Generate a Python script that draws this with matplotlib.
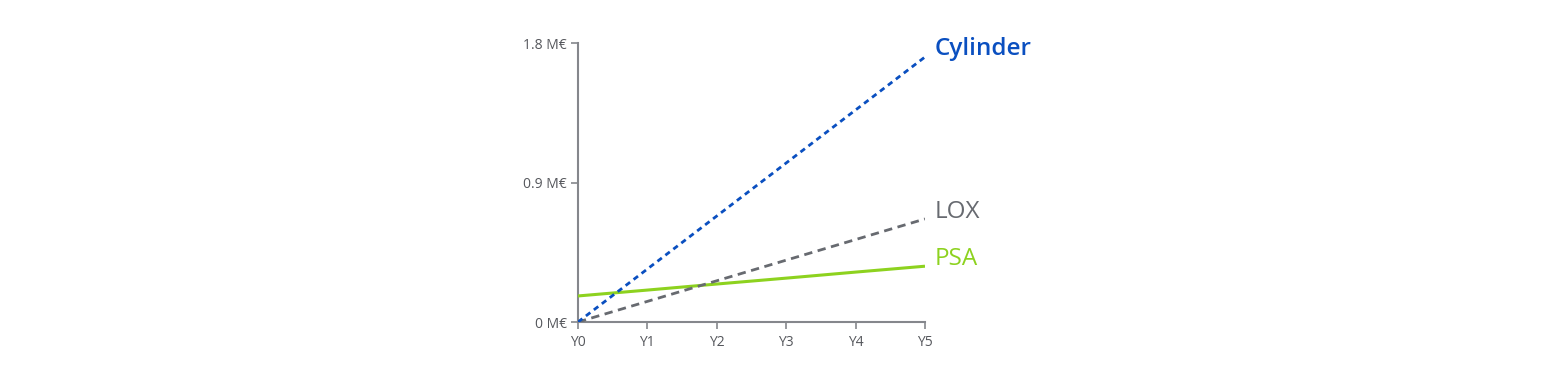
import matplotlib
matplotlib.use('Agg')
import matplotlib.pyplot as plt

years = ['Y0', 'Y1', 'Y2', 'Y3', 'Y4', 'Y5']
cylinder = [0.0, 0.342, 0.684, 1.026, 1.368, 1.71]
lox = [0.0, 0.133, 0.266, 0.399, 0.532, 0.665]
psa = [0.168, 0.206, 0.245, 0.283, 0.322, 0.36]
y_ticks = [0, 0.9, 1.8]
y_tick_labels = ['0 M€', '0.9 M€', '1.8 M€']

plt.rcParams['font.family'] = ['Open Sans', 'DejaVu Sans']

fig = plt.figure(figsize=(15.52, 3.88), dpi=100)
ax = fig.add_axes([0.3724, 0.1701, 0.2236, 0.7190])

x = list(range(len(years)))
ax.plot(x, psa, color='#8dd21f', lw=2.2, solid_capstyle='butt', zorder=3)
ax.plot(x, lox, color='#676a70', lw=2.0, dashes=(3, 2), zorder=3)
ax.plot(x, cylinder, color='#0a4fc0', lw=2.0, dashes=(2, 1.6), zorder=4)

labels = [('Cylinder', cylinder, '#0a4fc0', 6, 'semibold'),
          ('LOX', lox, '#676a70', 5, 'normal'),
          ('PSA', psa, '#8dd21f', 5, 'normal')]
for name, vals, col, dy, wt in labels:
    ax.annotate(name, xy=(x[-1], vals[-1]), xytext=(7, dy), textcoords='offset points',
                color=col, fontsize=17.5, fontweight=wt, va='center', ha='left',
                annotation_clip=False)

ax.set_xlim(0, 5)
ax.set_ylim(0, 1.8)
ax.set_xticks(x)
ax.set_xticklabels(years)
ax.set_yticks(y_ticks)
ax.set_yticklabels(y_tick_labels)

for s in ['top', 'right']:
    ax.spines[s].set_visible(False)
for s in ['left', 'bottom']:
    ax.spines[s].set_color('#85878c')
    ax.spines[s].set_linewidth(1.5)
ax.tick_params(colors='#85878c', width=1.2, length=5, labelsize=10, labelcolor='#55575c')
ax.tick_params(axis='y', pad=3)
ax.tick_params(axis='x', pad=4)

fig.savefig('out.png', dpi=100)
